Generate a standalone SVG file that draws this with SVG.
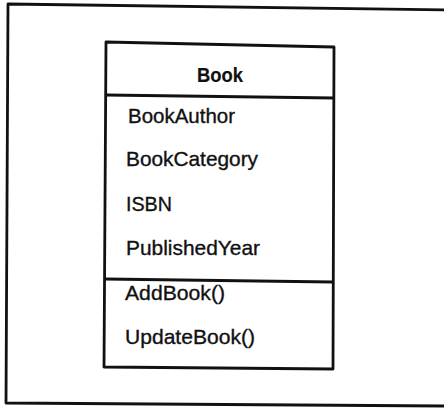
<svg xmlns="http://www.w3.org/2000/svg" width="444" height="409" viewBox="0 0 444 409">
<style>
.ln{fill:none;stroke:#111;stroke-width:2.8;stroke-linejoin:round}
.t{font-family:"Liberation Sans",Arial,sans-serif;font-size:21px;fill:#111;stroke:#111;stroke-width:0.35}
.b{font-weight:bold;stroke-width:0.2}
</style>
<rect width="444" height="409" fill="#fff"/>
<g id="frame">
<path class="ln" d="M446,10 L8,4 L6,403 L446,406"/>
</g>
<g id="book">
<path class="ln" d="M106,42 L334,47 L333,369 L104,367 Z"/>
<path class="ln" d="M106,95 L334,98"/>
<path class="ln" d="M105,279 L333,282"/>
<text class="t b" x="197" y="81.5" textLength="46" lengthAdjust="spacingAndGlyphs">Book</text>
<text class="t" x="128" y="122.5" textLength="107" lengthAdjust="spacingAndGlyphs">BookAuthor</text>
<text class="t" x="126" y="165.5" textLength="132" lengthAdjust="spacingAndGlyphs">BookCategory</text>
<text class="t" x="126" y="210.5" textLength="46" lengthAdjust="spacingAndGlyphs">ISBN</text>
<text class="t" x="126" y="255" textLength="134" lengthAdjust="spacingAndGlyphs">PublishedYear</text>
<text class="t" x="125" y="300" textLength="100" lengthAdjust="spacingAndGlyphs">AddBook()</text>
<text class="t" x="125" y="343.5" textLength="130" lengthAdjust="spacingAndGlyphs">UpdateBook()</text>
</g>
<g id="connectors"></g>
</svg>
